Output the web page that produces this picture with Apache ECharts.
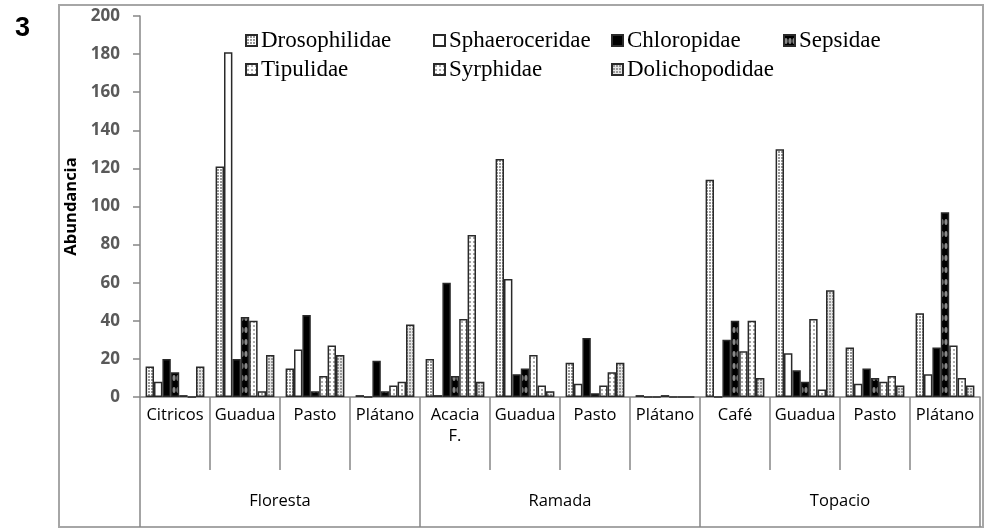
<!DOCTYPE html>
<html>
<head>
<meta charset="utf-8">
<script src="https://cdn.jsdelivr.net/npm/echarts@6/dist/echarts.min.js"></script>
<style>
  html, body { margin: 0; padding: 0; background: #fff; }
  #chart { width: 990px; height: 529px; }
</style>
</head>
<body>
<div id="chart"></div>
<script>
// sites (12 bars groups) and localities
const sites = ['Citricos', 'Guadua', 'Pasto', 'Plátano', 'Acacia\nF.', 'Guadua', 'Pasto', 'Plátano', 'Café', 'Guadua', 'Pasto', 'Plátano']
const localities = ['Floresta', 'Ramada', 'Topacio']

// abundance per family, one value per site
const drosophilidae = [16, 121, 15, 1, 20, 125, 18, 1, 114, 130, 26, 44]
const sphaeroceridae = [8, 181, 25, 0, 1, 62, 7, 0, 0, 23, 7, 12]
const chloropidae = [20, 20, 43, 19, 60, 12, 31, 0, 30, 14, 15, 26]
const sepsidae = [13, 42, 3, 3, 11, 15, 2, 1, 40, 8, 10, 97]
const tipulidae = [1, 40, 11, 6, 41, 22, 6, 0, 24, 41, 8, 27]
const syrphidae = [0, 3, 27, 8, 85, 6, 13, 0, 40, 4, 11, 10]
const dolichopodidae = [16, 22, 22, 38, 8, 3, 18, 0, 10, 56, 6, 6]

const yTicks = { min: 0, max: 200, interval: 20 }

// little canvas fills, like the office hatch patterns
function pattern (w, h, draw) {
    const c = document.createElement('canvas')
    c.width = w
    c.height = h
    const ctx = c.getContext('2d')
    draw(ctx, w, h)
    return { image: c, repeat: 'repeat' }
}
function dots (bg, dot, step, size) {
    return pattern(step, step, (ctx, w, h) => {
        ctx.fillStyle = bg
        ctx.fillRect(0, 0, w, h)
        ctx.fillStyle = dot
        ctx.fillRect(1, 1, size, size)
    })
}
const fills = {
    Drosophilidae: dots('#ffffff', '#9a9a9a', 3, 2),
    Sphaeroceridae: '#ffffff',
    Chloropidae: '#000000',
    Sepsidae: pattern(4, 12, (ctx, w, h) => {
        ctx.fillStyle = '#000'
        ctx.fillRect(0, 0, w, h)
        ctx.fillStyle = '#8a8a8a'
        ctx.beginPath()
        ctx.ellipse(2, h / 2, 1.6, 3, 0, 0, Math.PI * 2)
        ctx.fill()
    }),
    Tipulidae: dots('#ffffff', '#b0b0b0', 4, 2),
    Syrphidae: dots('#ffffff', '#a8a8a8', 4, 2),
    Dolichopodidae: dots('#e6e6e6', '#9a9a9a', 3, 2)
}

const families = [
    ['Drosophilidae', drosophilidae],
    ['Sphaeroceridae', sphaeroceridae],
    ['Chloropidae', chloropidae],
    ['Sepsidae', sepsidae],
    ['Tipulidae', tipulidae],
    ['Syrphidae', syrphidae],
    ['Dolichopodidae', dolichopodidae]
]

const legendStyle = {
    orient: 'vertical',
    top: 24,
    itemWidth: 11,
    itemHeight: 11,
    itemGap: 6,
    icon: 'rect',
    textStyle: { fontFamily: 'Liberation Serif', fontSize: 23, color: '#000', padding: [0, 0, 0, -1] }
}

const chart = echarts.init(document.getElementById('chart'))
const option = {
    animation: false,
    title: {
        text: '3',
        left: 10,
        top: 10,
        textStyle: { fontFamily: 'Liberation Sans', fontSize: 27, fontWeight: 'bold', color: '#000' }
    },
    legend: [
        Object.assign({ left: 240, data: ['Drosophilidae', 'Tipulidae'] }, legendStyle),
        Object.assign({ left: 428, data: ['Sphaeroceridae', 'Syrphidae'] }, legendStyle),
        Object.assign({ left: 606, data: ['Chloropidae', 'Dolichopodidae'] }, legendStyle),
        Object.assign({ left: 778, data: ['Sepsidae'] }, legendStyle)
    ],
    graphic: [
        {
            type: 'rect',
            shape: { x: 59, y: 5, width: 924, height: 522 },
            style: { fill: 'none', stroke: '#a6a6a6', lineWidth: 2 },
            silent: true
        }
    ],
    grid: {
        left: 140,
        right: 10,
        top: 16,
        bottom: 132
    },
    xAxis: [
        {
            type: 'category',
            data: sites,
            axisLine: { lineStyle: { color: '#868686', width: 1.5 } },
            axisTick: { show: true, length: 73, lineStyle: { color: '#868686', width: 1.5 } },
            axisLabel: {
                interval: 0,
                margin: 8,
                fontFamily: 'Open Sans',
                fontSize: 16.5,
                color: '#000',
                lineHeight: 21
            }
        },
        {
            type: 'category',
            data: localities,
            position: 'bottom',
            axisLine: { show: false },
            axisTick: { show: true, length: 130, lineStyle: { color: '#868686', width: 1.5 } },
            axisLabel: {
                interval: 0,
                margin: 96,
                fontFamily: 'Open Sans',
                fontSize: 16.5,
                color: '#000'
            }
        }
    ],
    yAxis: {
        type: 'value',
        min: yTicks.min,
        max: yTicks.max,
        interval: yTicks.interval,
        name: 'Abundancia',
        nameLocation: 'middle',
        nameGap: 58,
        nameTextStyle: { fontFamily: 'Open Sans', fontSize: 16.5, fontWeight: 'bold', color: '#000' },
        splitLine: { show: false },
        axisLine: { show: true, lineStyle: { color: '#868686', width: 1.5 } },
        axisTick: { show: true, length: 7, lineStyle: { color: '#868686', width: 1.5 } },
        axisLabel: {
            margin: 20,
            fontFamily: 'Open Sans',
            fontSize: 17,
            fontWeight: 'bold',
            color: '#595959'
        }
    },
    series: families.map(([name, values]) => ({
        name,
        type: 'bar',
        xAxisIndex: 0,
        data: values,
        barGap: '0%',
        barCategoryGap: '16%',
        itemStyle: {
            color: fills[name],
            borderColor: '#2a2a2a',
            borderWidth: 1.5
        }
    }))
}
chart.setOption(option)
</script>
</body>
</html>
